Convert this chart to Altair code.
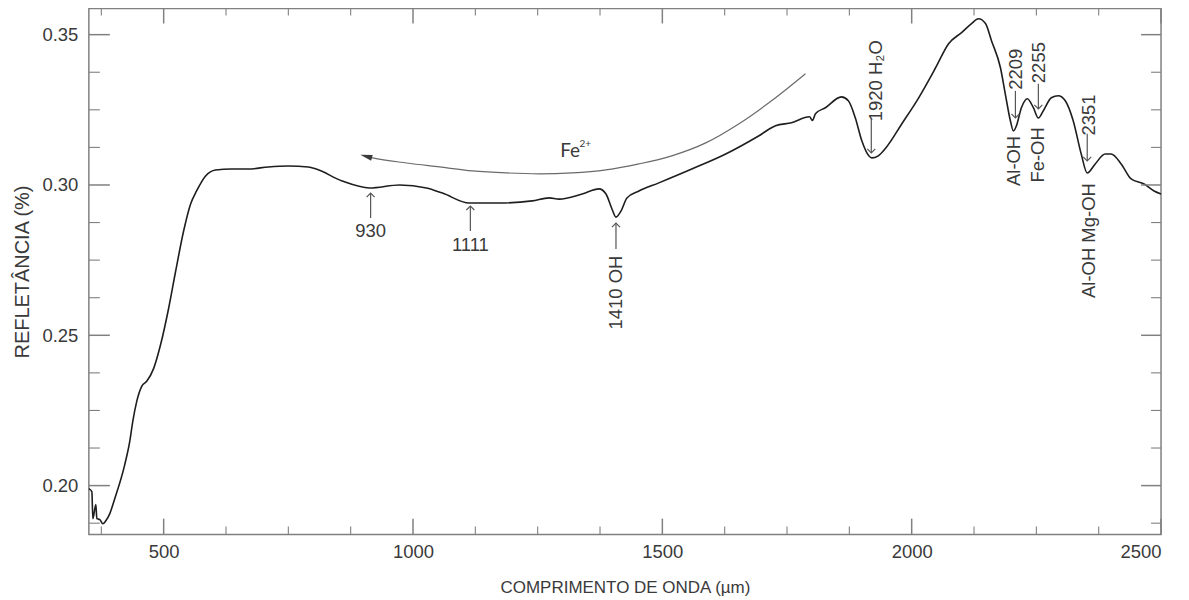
import altair as alt
import pandas as pd

# ---- spectrum ----
wavelength = [350, 356, 358, 364, 366, 372, 378, 384, 392, 402, 422, 432, 438, 446, 456, 466, 480, 494,
              510, 524, 540, 554, 566, 584, 604, 636, 670, 710, 750, 790, 806, 858, 913, 973, 1027, 1059,
              1113, 1173, 1239, 1273, 1293, 1339, 1373, 1387, 1399, 1407, 1417, 1429, 1453, 1493, 1559,
              1627, 1693, 1727, 1759, 1795, 1801, 1807, 1827, 1859, 1873, 1887, 1900, 1914, 1920, 1933,
              1948, 1980, 2014, 2048, 2074, 2100, 2120, 2134, 2148, 2160, 2178, 2188, 2198, 2204, 2210,
              2220, 2232, 2244, 2254, 2264, 2280, 2294, 2308, 2324, 2340, 2352, 2368, 2388, 2400, 2420,
              2440, 2466, 2486, 2500]
reflectance = [0.1990, 0.1980, 0.1890, 0.1937, 0.1890, 0.1887, 0.1873, 0.1883, 0.1907, 0.1957, 0.2070,
               0.2147, 0.2213, 0.2280, 0.2330, 0.2347, 0.2390, 0.2470, 0.2590, 0.2713, 0.2847, 0.2937,
               0.2980, 0.3030, 0.3050, 0.3053, 0.3053, 0.3060, 0.3063, 0.3060, 0.3053, 0.3013, 0.2990,
               0.3000, 0.2990, 0.2973, 0.2940, 0.2940, 0.2947, 0.2957, 0.2953, 0.2970, 0.2987, 0.2970,
               0.2920, 0.2893, 0.2913, 0.2957, 0.2980, 0.3007, 0.3053, 0.3103, 0.3163, 0.3197, 0.3207,
               0.3227, 0.3215, 0.3237, 0.3257, 0.3293, 0.3280, 0.3223, 0.3147, 0.3097, 0.3090, 0.3097,
               0.3123, 0.3203, 0.3290, 0.3390, 0.3470, 0.3507, 0.3537, 0.3553, 0.3537, 0.3480, 0.3390,
               0.3300, 0.3213, 0.3180, 0.3197, 0.3257, 0.3287, 0.3257, 0.3223, 0.3247, 0.3290, 0.3297,
               0.3280, 0.3213, 0.3103, 0.3040, 0.3070, 0.3103, 0.3103, 0.3070, 0.3020, 0.3003, 0.2980,
               0.2970]

# ---- axis ticks ----
x_major = [500, 1000, 1500, 2000, 2500]
x_minor = [375, 625, 750, 875, 1125, 1250, 1375, 1625, 1750, 1875, 2125, 2250, 2375]
y_major = [0.20, 0.25, 0.30, 0.35]
y_minor = [0.1875, 0.2125, 0.225, 0.2375, 0.2625, 0.275, 0.2875, 0.3125, 0.325, 0.3375]

# ---- Fe2+ arc ----
arc_x = [1787, 1719, 1653, 1587, 1519, 1453, 1387, 1319, 1253, 1187, 1119, 1053, 987, 919, 906]
arc_y = [0.3370, 0.3280, 0.3203, 0.3140, 0.3097, 0.3070, 0.3050, 0.3040, 0.3037, 0.3040, 0.3047,
         0.3060, 0.3073, 0.3090, 0.3095]
arc_head_x = [906]
arc_head_y = [0.3095]
fe_text = ["Fe"]
fe_x = [1315]
fe_y = [0.3113]
fe_sup = ["2+"]
fe_sup_x = [1334]
fe_sup_y = [0.3137]

# ---- absorption feature arrows ----
arrow_x = [915, 1115, 1407, 1919, 2208, 2254, 2352]
arrow_tail = [0.2890, 0.2847, 0.2787, 0.3220, 0.3313, 0.3337, 0.3170]
arrow_head = [0.2973, 0.2930, 0.2873, 0.3107, 0.3223, 0.3253, 0.3080]
arrow_angle = [0, 0, 0, 180, 180, 180, 180]

# ---- labels ----
label_text = ["930", "1111", "1410 OH", "1920 H₂O", "2209", "2255", "Al-OH", "Fe-OH", "2351",
              "Al-OH Mg-OH"]
label_x = [915, 1115, 1408, 1928, 2210, 2256, 2206, 2254, 2356, 2356]
label_y = [0.2847, 0.2800, 0.2642, 0.3347, 0.3385, 0.3407, 0.3080, 0.3100, 0.3233, 0.2815]
label_angle = [0, 0, 270, 270, 270, 270, 270, 270, 270, 270]

W, H = 1074, 527
FONT = "Liberation Sans"
TXT = "#3a3a3a"
GRID = "#808080"

spec = pd.DataFrame({"wl": wavelength, "r": reflectance})
arc = pd.DataFrame({"x": arc_x, "y": arc_y, "o": list(range(len(arc_x)))})
arrows = pd.DataFrame({"x": arrow_x, "y1": arrow_tail, "y2": arrow_head, "ang": arrow_angle})
labels = pd.DataFrame({"t": label_text, "x": label_x, "y": label_y, "ang": label_angle})

xs = alt.Scale(domain=[350, 2500], nice=False, zero=False)
ys = alt.Scale(domain=[0.1837, 0.3587], nice=False, zero=False)

main = alt.Chart(spec).mark_line(color="#1e1e1e", strokeWidth=1.6, interpolate="monotone").encode(
    x=alt.X("wl:Q", scale=xs, axis=alt.Axis(
        orient="bottom", values=x_major, format="d", ticks=False, domain=False, grid=False,
        labelFont=FONT, labelFontSize=18.5, labelColor=TXT, labelPadding=8,
        title="COMPRIMENTO DE ONDA (µm)", titleFont=FONT, titleFontSize=17,
        titleFontWeight="normal", titleColor=TXT, titleY=53, titleBaseline="middle")),
    y=alt.Y("r:Q", scale=ys, axis=alt.Axis(
        orient="left", values=y_major, format=".2f", ticks=False, domain=False, grid=False,
        labelFont=FONT, labelFontSize=18.5, labelColor=TXT, labelPadding=11,
        title="REFLETÂNCIA (%)", titleFont=FONT, titleFontSize=20, titleFontWeight="normal",
        titleColor=TXT, titleX=-66, titleY=H / 2, titleAngle=270, titleAlign="center",
        titleBaseline="middle")),
)


# inward tick marks: positions come from the tick lists through the shared scales
def xticks(vals, edge, length, width):
    y0 = H if edge == "bottom" else 0
    y1 = H - length if edge == "bottom" else length
    return alt.Chart(pd.DataFrame({"v": vals})).mark_rule(color=GRID, strokeWidth=width).encode(
        x=alt.X("v:Q", scale=xs, axis=None), y=alt.value(y0), y2=alt.value(y1))


def yticks(vals, edge, length, width):
    x0 = 0 if edge == "left" else W
    x1 = length if edge == "left" else W - length
    return alt.Chart(pd.DataFrame({"v": vals})).mark_rule(color=GRID, strokeWidth=width).encode(
        y=alt.Y("v:Q", scale=ys, axis=None), x=alt.value(x0), x2=alt.value(x1))


ticks = [
    xticks(x_major, "bottom", 16, 1.5), xticks(x_minor, "bottom", 8, 1.1),
    xticks(x_major, "top", 15, 1.5), xticks(x_minor, "top", 7, 1.1),
    yticks(y_major, "left", 21, 1.5), yticks(y_minor, "left", 11, 1.1),
    yticks(y_major, "right", 20, 1.5), yticks(y_minor, "right", 10, 1.1),
]

arc_line = alt.Chart(arc).mark_line(color="#6a6a6a", strokeWidth=1.2, interpolate="monotone").encode(
    x=alt.X("x:Q", scale=xs, axis=None),
    y=alt.Y("y:Q", scale=ys, axis=None),
    order="o:Q",
)
arc_head = alt.Chart(pd.DataFrame({"x": arc_head_x, "y": arc_head_y})).mark_point(
    shape="M-1,0L1,-0.5L1,0.5Z", filled=True, color="#3a3a3a", size=144, opacity=1, angle=15
).encode(
    x=alt.X("x:Q", scale=xs, axis=None),
    y=alt.Y("y:Q", scale=ys, axis=None),
)
fe = alt.Chart(pd.DataFrame({"t": fe_text, "x": fe_x, "y": fe_y})).mark_text(
    font="Lato", fontSize=19, color=TXT, align="center", baseline="middle"
).encode(
    x=alt.X("x:Q", scale=xs, axis=None),
    y=alt.Y("y:Q", scale=ys, axis=None),
    text="t:N",
)
fe2 = alt.Chart(pd.DataFrame({"t": fe_sup, "x": fe_sup_x, "y": fe_sup_y})).mark_text(
    font="Lato", fontSize=10, color=TXT, align="left", baseline="middle"
).encode(
    x=alt.X("x:Q", scale=xs, axis=None),
    y=alt.Y("y:Q", scale=ys, axis=None),
    text="t:N",
)

arrow_rules = alt.Chart(arrows).mark_rule(color="#555555", strokeWidth=1.2).encode(
    x=alt.X("x:Q", scale=xs, axis=None),
    y=alt.Y("y1:Q", scale=ys, axis=None),
    y2="y2:Q",
)
arrow_heads = alt.Chart(arrows).mark_point(
    shape="M-1,1L0,0L1,1", filled=False, color="#555555", strokeWidth=1.2, size=64, opacity=1
).encode(
    x=alt.X("x:Q", scale=xs, axis=None),
    y=alt.Y("y2:Q", scale=ys, axis=None),
    angle=alt.Angle("ang:Q", scale=None),
)
texts = alt.Chart(labels).mark_text(
    font=FONT, fontSize=18.5, color=TXT, align="center", baseline="middle"
).encode(
    x=alt.X("x:Q", scale=xs, axis=None),
    y=alt.Y("y:Q", scale=ys, axis=None),
    text="t:N",
    angle=alt.Angle("ang:Q", scale=None),
)

chart = alt.layer(
    main, *ticks, arc_line, arc_head, fe, fe2, arrow_rules, arrow_heads, texts
).resolve_axis(
    x="independent", y="independent"
).properties(
    width=W, height=H, autosize="none",
    padding={"left": 81, "top": 0, "right": 20, "bottom": 64},
).configure_view(
    stroke=GRID, strokeWidth=1.5
)

chart.save("out.html", embed_options={"renderer": "svg", "actions": False})
